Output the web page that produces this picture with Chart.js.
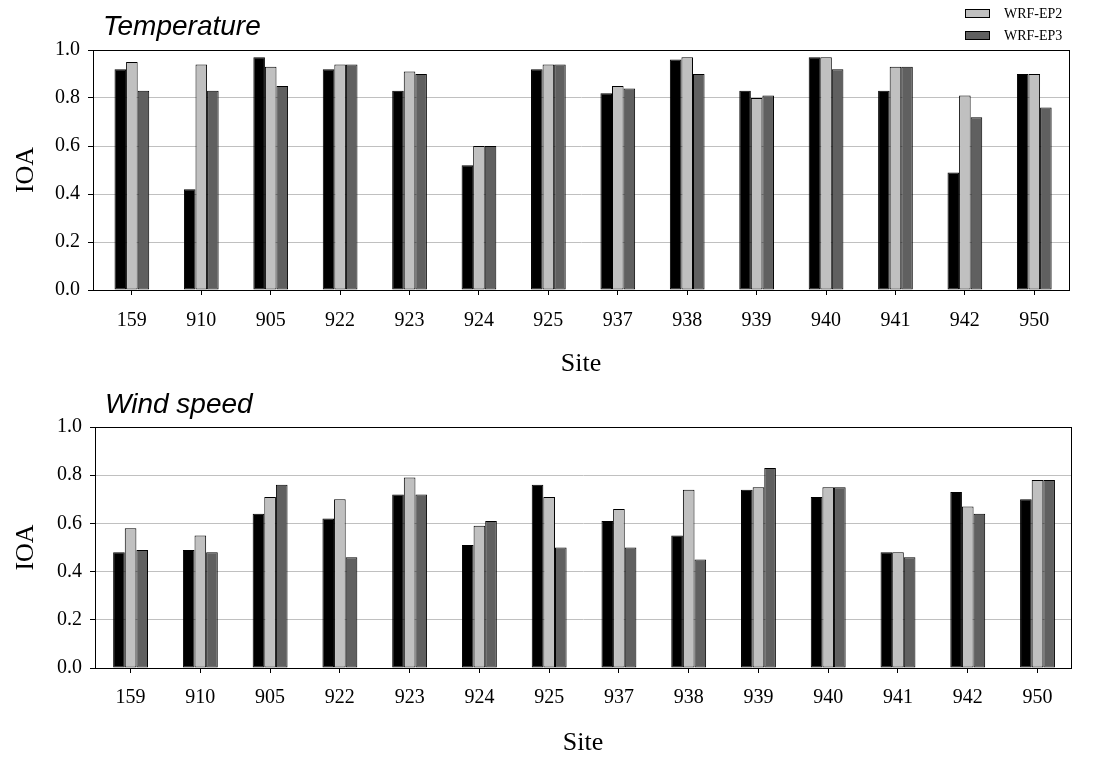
<!DOCTYPE html>
<html>
<head>
<meta charset="utf-8">
<script src="https://cdn.jsdelivr.net/npm/chart.js@4.4.1/dist/chart.umd.min.js"></script>
<style>
body { margin: 0; background: #fff; }
#wrap { position: relative; width: 1100px; height: 771px; }
canvas { position: absolute; left: 0; }
#chart-temp { top: 0; }
#chart-wind { top: 385px; }
.leg { position: absolute; left: 965px; font-family: 'Liberation Serif', 'Times New Roman', serif; font-size: 14px; color: #000; }
.leg span.box { position: absolute; left: 0; width: 23px; height: 7px; border: 1px solid #000; }
.leg span.txt { position: absolute; left: 39px; white-space: nowrap; }
</style>
</head>
<body>
<div id="wrap">
  <canvas id="chart-temp" width="1100" height="385"></canvas>
  <canvas id="chart-wind" width="1100" height="386"></canvas>
  <div class="leg" style="top:9px"><span class="box" style="background:#c0c0c0"></span><span class="txt" style="top:-3px">WRF-EP2</span></div>
  <div class="leg" style="top:31px"><span class="box" style="background:#606060"></span><span class="txt" style="top:-3px">WRF-EP3</span></div>
</div>
<script>
// data -------------------------------------------------------------
const sites = ['159', '910', '905', '922', '923', '924', '925', '937', '938', '939', '940', '941', '942', '950'];

const tempEP1 = [0.92, 0.42, 0.97, 0.92, 0.83, 0.52, 0.92, 0.82, 0.96, 0.83, 0.97, 0.83, 0.49, 0.90];
const tempEP2 = [0.95, 0.94, 0.93, 0.94, 0.91, 0.60, 0.94, 0.85, 0.97, 0.80, 0.97, 0.93, 0.81, 0.90];
const tempEP3 = [0.83, 0.83, 0.85, 0.94, 0.90, 0.60, 0.94, 0.84, 0.90, 0.81, 0.92, 0.93, 0.72, 0.76];

const windEP1 = [0.48, 0.49, 0.64, 0.62, 0.72, 0.51, 0.76, 0.61, 0.55, 0.74, 0.71, 0.48, 0.73, 0.70];
const windEP2 = [0.58, 0.55, 0.71, 0.70, 0.79, 0.59, 0.71, 0.66, 0.74, 0.75, 0.75, 0.48, 0.67, 0.78];
const windEP3 = [0.49, 0.48, 0.76, 0.46, 0.72, 0.61, 0.50, 0.50, 0.45, 0.83, 0.75, 0.46, 0.64, 0.78];

const yTicks = [0, 0.2, 0.4, 0.6, 0.8, 1.0];

const seriesNames = ['WRF-EP1', 'WRF-EP2', 'WRF-EP3'];
const seriesColors = ['#000000', '#c0c0c0', '#606060'];

const serif = "'Liberation Serif', 'Times New Roman', serif";

// one panel --------------------------------------------------------
function makePanel(id, title, values, g) {
    const ctx = document.getElementById(id);

    // panel title + box round the plot area
    const extras = {
        id: 'extras',
        afterDraw(chart) {
            const c = chart.ctx;
            const a = chart.chartArea;
            c.save();
            c.strokeStyle = '#000';
            c.lineWidth = 1;
            c.strokeRect(Math.round(a.left) + 0.5, Math.round(a.top) + 0.5, Math.round(a.right - a.left), Math.round(a.bottom - a.top));
            c.fillStyle = '#000';
            c.font = "italic 28px 'Liberation Sans', Arial, sans-serif";
            c.textBaseline = 'alphabetic';
            c.fillText(title, g.titleX, g.titleY);
            c.restore();
        }
    };

    new Chart(ctx, {
        type: 'bar',
        data: {
            datasets: values.map((v, i) => ({
                label: seriesNames[i],
                data: v.map((y, k) => ({ x: k, y: y })),
                backgroundColor: seriesColors[i],
                borderColor: '#000',
                borderWidth: 1,
                borderSkipped: false,
                categoryPercentage: 0.5,
                barPercentage: 1.0
            }))
        },
        options: {
            responsive: false,
            animation: false,
            layout: { padding: { top: g.top, right: g.right, left: 0, bottom: 0 } },
            plugins: {
                legend: { display: false },
                tooltip: { enabled: false }
            },
            scales: {
                x: {
                    type: 'linear',
                    offset: false,
                    min: g.xMin,
                    max: g.xMax,
                    afterFit: (s) => { s.height = g.xHeight; },
                    afterBuildTicks: (s) => { s.ticks = sites.map((_, k) => ({ value: k })); },
                    grid: { display: true, offset: false, drawOnChartArea: false, tickLength: 5, tickColor: '#000' },
                    border: { color: '#000', width: 1 },
                    ticks: {
                        color: '#000', padding: g.tickPad, maxRotation: 0, autoSkip: false,
                        font: { family: serif, size: 20 },
                        callback: (v) => sites[v]
                    },
                    title: {
                        display: true, text: 'Site', color: '#000',
                        font: { family: serif, size: 26 },
                        padding: { top: 0, bottom: g.siteBottom }
                    }
                },
                y: {
                    min: 0,
                    max: 1,
                    afterFit: (s) => { s.width = g.left; },
                    afterBuildTicks: (s) => { s.ticks = yTicks.map((v) => ({ value: v })); },
                    grid: { color: '#c0c0c0', tickLength: 5, tickColor: '#000' },
                    border: { color: '#000', width: 1 },
                    ticks: {
                        color: '#000', padding: 8,
                        font: { family: serif, size: 20 },
                        callback: (v) => v.toFixed(1)
                    },
                    title: {
                        display: true, text: 'IOA', color: '#000',
                        font: { family: serif, size: 26 },
                        padding: { top: 11, bottom: 0 }
                    }
                }
            }
        },
        plugins: [extras]
    });
}

makePanel('chart-temp', 'Temperature', [tempEP1, tempEP2, tempEP3],
    { top: 50, right: 31, left: 93, xHeight: 95, tickPad: 14, siteBottom: 5, titleX: 103, titleY: 35, xMin: -0.56, xMax: 13.5 });
makePanel('chart-wind', 'Wind speed', [windEP1, windEP2, windEP3],
    { top: 42, right: 29, left: 95, xHeight: 103, tickPad: 13, siteBottom: 12, titleX: 105, titleY: 28, xMin: -0.51, xMax: 13.48 });
</script>
</body>
</html>
